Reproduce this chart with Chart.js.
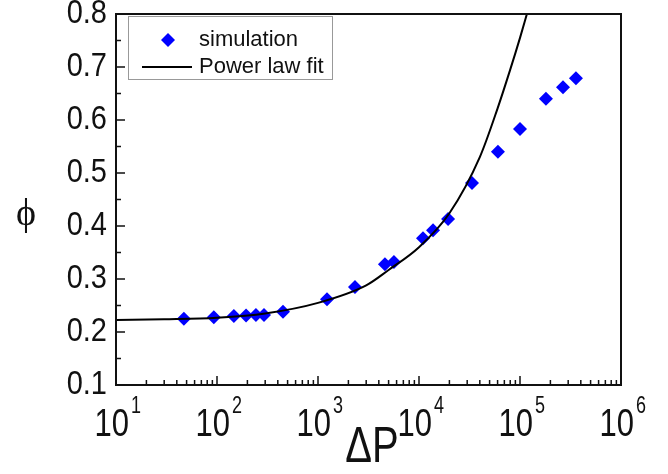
<!DOCTYPE html>
<html>
<head>
<meta charset="utf-8">
<script src="https://cdn.jsdelivr.net/npm/chart.js@4/dist/chart.umd.min.js"></script>
<style>
  html, body { margin: 0; padding: 0; background: #fff; }
  #wrap { width: 668px; height: 474px; }
</style>
</head>
<body>
<div id="wrap"><canvas id="c" width="668" height="474"></canvas></div>
<script>
// ---- data ----
const simDeltaP = [47, 93, 147, 194, 243, 292, 450, 1228, 2323, 4600, 5650, 10960, 13770, 19400, 33500, 60500, 100000, 180700, 266600, 358000];
const simPhi    = [0.225, 0.228, 0.230, 0.231, 0.232, 0.232, 0.238, 0.262, 0.285, 0.328, 0.332, 0.377, 0.392, 0.413, 0.481, 0.540, 0.583, 0.640, 0.662, 0.679];

const fitDeltaP = [10, 30, 100, 300, 1000, 3000, 5000, 10000, 20000, 40000, 60000, 80000, 100000, 117000];
const fitPhi    = [0.2225, 0.224, 0.227, 0.235, 0.255, 0.288, 0.317, 0.360, 0.424, 0.530, 0.622, 0.695, 0.755, 0.800];

const xMajorTicks = [10, 100, 1000, 10000, 100000, 1000000];
const xTickExponents = ['1', '2', '3', '4', '5', '6'];
const yMajorTicks = [0.1, 0.2, 0.3, 0.4, 0.5, 0.6, 0.7, 0.8];
const yTickLabels = ['0.1', '0.2', '0.3', '0.4', '0.5', '0.6', '0.7', '0.8'];
const yMinorTicks = [0.15, 0.25, 0.35, 0.45, 0.55, 0.65, 0.75];

const legendLabels = ['simulation', 'Power law fit'];
const xTitle = 'ΔP';
const yTitle = 'ϕ';

// minor log ticks 2..9 per decade (tick positions, not data)
const xMinorTicks = [];
for (let d = 1; d < 6; d++) for (let m = 2; m <= 9; m++) xMinorTicks.push(m * Math.pow(10, d));

const FONT = '"Liberation Sans", Arial, sans-serif';

function stretchText(ctx, text, x, y, sy) {
  ctx.save();
  ctx.translate(x, y);
  ctx.scale(1, sy);
  ctx.fillText(text, 0, 0);
  ctx.restore();
}

const decorPlugin = {
  id: 'decor',
  afterDraw(chart) {
    const ctx = chart.ctx;
    const a = chart.chartArea;
    const xs = chart.scales.x, ys = chart.scales.y;
    ctx.save();
    // frame
    ctx.strokeStyle = '#111';
    ctx.lineWidth = 2;
    ctx.strokeRect(a.left, a.top, a.right - a.left, a.bottom - a.top);
    // ticks (inward), bottom and left only
    ctx.lineWidth = 1.5;
    ctx.beginPath();
    xMajorTicks.forEach(v => { const p = xs.getPixelForValue(v); ctx.moveTo(p, a.bottom); ctx.lineTo(p, a.bottom - 9); });
    xMinorTicks.forEach(v => { const p = xs.getPixelForValue(v); ctx.moveTo(p, a.bottom); ctx.lineTo(p, a.bottom - 5); });
    yMajorTicks.forEach(v => { const p = ys.getPixelForValue(v); ctx.moveTo(a.left, p); ctx.lineTo(a.left + 9, p); });
    yMinorTicks.forEach(v => { const p = ys.getPixelForValue(v); ctx.moveTo(a.left, p); ctx.lineTo(a.left + 5, p); });
    ctx.stroke();

    // tick labels
    ctx.fillStyle = '#111';
    ctx.font = '29px ' + FONT;
    ctx.textAlign = 'right';
    ctx.textBaseline = 'middle';
    yMajorTicks.forEach((v, i) => {
      stretchText(ctx, yTickLabels[i], a.left - 9, ys.getPixelForValue(v), 1.15);
    });
    xMajorTicks.forEach((v, i) => {
      const p = xs.getPixelForValue(v);
      ctx.font = '31px ' + FONT;
      ctx.textAlign = 'right';
      ctx.textBaseline = 'alphabetic';
      stretchText(ctx, '10', p + 13, a.bottom + 51, 1.28);
      ctx.font = '18px ' + FONT;
      ctx.textAlign = 'left';
      stretchText(ctx, xTickExponents[i], p + 15, a.bottom + 28, 1.3);
    });

    // axis titles
    ctx.font = '40px ' + FONT;
    ctx.textAlign = 'center';
    ctx.textBaseline = 'alphabetic';
    stretchText(ctx, xTitle, 372, 462, 1.25);
    ctx.font = '38px "Liberation Serif", "DejaVu Serif", serif';
    ctx.fillText(yTitle, 26, 225);

    // legend
    ctx.strokeStyle = '#999';
    ctx.lineWidth = 1;
    ctx.strokeRect(128.5, 16.5, 204, 63);
    ctx.fillStyle = '#0000ff';
    ctx.beginPath();
    ctx.moveTo(168, 33); ctx.lineTo(175, 40); ctx.lineTo(168, 47); ctx.lineTo(161, 40); ctx.closePath();
    ctx.fill();
    ctx.strokeStyle = '#000';
    ctx.lineWidth = 2;
    ctx.beginPath(); ctx.moveTo(142, 67); ctx.lineTo(192, 67); ctx.stroke();
    ctx.fillStyle = '#111';
    ctx.font = '22px ' + FONT;
    ctx.textAlign = 'left';
    ctx.textBaseline = 'middle';
    ctx.fillText(legendLabels[0], 199, 40);
    ctx.fillText(legendLabels[1], 199, 67);
    ctx.restore();
  }
};

new Chart(document.getElementById('c'), {
  type: 'scatter',
  data: {
    datasets: [
      {
        label: legendLabels[0],
        data: simDeltaP.map((x, i) => ({ x, y: simPhi[i] })),
        pointStyle: 'rectRot',
        pointRadius: 7,
        backgroundColor: '#0000ff',
        borderColor: '#0000ff',
        borderWidth: 0,
        showLine: false,
        order: 2
      },
      {
        label: legendLabels[1],
        data: fitDeltaP.map((x, i) => ({ x, y: fitPhi[i] })),
        showLine: true,
        pointRadius: 0,
        borderColor: '#000',
        borderWidth: 2,
        cubicInterpolationMode: 'monotone',
        fill: false,
        order: 1
      }
    ]
  },
  options: {
    responsive: false,
    animation: false,
    devicePixelRatio: 1,
    layout: { padding: { top: 14, right: 47, left: 0, bottom: 0 } },
    plugins: { legend: { display: false }, tooltip: { enabled: false } },
    scales: {
      x: {
        type: 'logarithmic', min: 10, max: 1000000,
        ticks: { display: false }, grid: { display: false }, border: { display: false },
        afterFit(s) { s.height = 89; }
      },
      y: {
        type: 'linear', min: 0.1, max: 0.8,
        ticks: { display: false }, grid: { display: false }, border: { display: false },
        afterFit(s) { s.width = 116; }
      }
    }
  },
  plugins: [decorPlugin]
});
</script>
</body>
</html>
